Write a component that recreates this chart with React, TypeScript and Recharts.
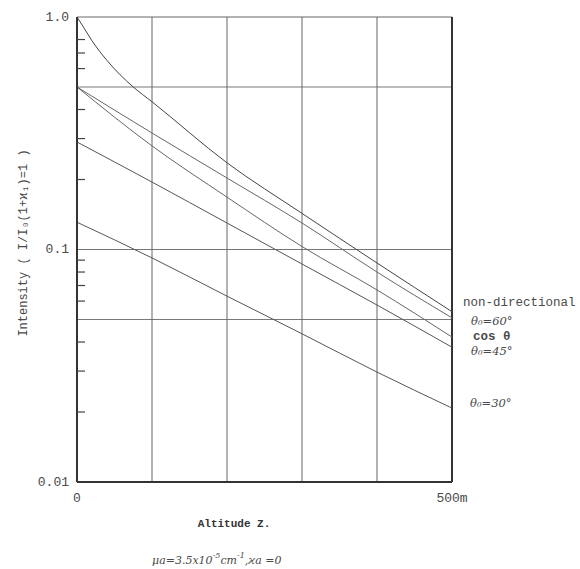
import { LineChart, Line, XAxis, YAxis, ReferenceLine } from 'recharts';

// altitude (m) at which each curve was read
const ALT = [0, 100, 200, 300, 400, 500];
const ALT_FINE = [0, 10, 20, 40, 75, 100, 200, 300, 400, 500];

// intensities
const NON_DIRECTIONAL = [1.0, 0.89, 0.79, 0.65, 0.5, 0.432, 0.236, 0.143, 0.0875, 0.054];
const THETA_60 = [0.5, 0.317, 0.203, 0.13, 0.08, 0.0508];
const COS_THETA = [0.5, 0.279, 0.168, 0.103, 0.067, 0.042];
const THETA_45 = [0.29, 0.195, 0.13, 0.0866, 0.0577, 0.038];
const THETA_30 = [0.131, 0.092, 0.063, 0.0434, 0.0297, 0.0208];

const Y_TICKS = [0.01, 0.02, 0.03, 0.04, 0.06, 0.07, 0.08, 0.09, 0.1, 0.2, 0.3, 0.4, 0.6, 0.7, 0.8, 1];
const Y_LABELS: Record<string, string> = { '1': '1.0', '0.1': '0.1', '0.01': '0.01' };
const X_TICKS = [0, 500];
const GRID_X = [100, 200, 300, 400];
const GRID_Y = [0.5, 0.1, 0.05];

const MONO = '"Liberation Mono", "DejaVu Sans Mono", monospace';
const INK = '#4a4a4a';
const AXIS_W = 40;

const rows = (xs: number[], vs: number[]) => xs.map((alt, i) => ({ alt, v: vs[i] }));

const SERIES = [
  { name: 'non-directional', data: rows(ALT_FINE, NON_DIRECTIONAL), dx: 11, dy: -9, italic: false, bold: false, color: '#444' },
  { name: 'θ₀=60°', data: rows(ALT, THETA_60), dx: 19, dy: 3, italic: true, bold: false, color: '#666' },
  { name: 'cos θ', data: rows(ALT, COS_THETA), dx: 21, dy: 0, italic: false, bold: true, color: '#666' },
  { name: 'θ₀=45°', data: rows(ALT, THETA_45), dx: 19, dy: 4, italic: true, bold: false, color: '#555' },
  { name: 'θ₀=30°', data: rows(ALT, THETA_30), dx: 18, dy: -5, italic: true, bold: false, color: '#555' },
];

// x arrives as the axis line position because tickSize and tickMargin are 0
const renderYTick = (props: any) => {
  const { x, y, payload } = props;
  const label = Y_LABELS[String(payload.value)];
  if (label) {
    return (
      <text x={x - 8} y={y} textAnchor="end" dominantBaseline="central" fontFamily={MONO} fontSize={13} fill={INK}>
        {label}
      </text>
    );
  }
  return <line x1={x} x2={x + 8} y1={y} y2={y} stroke="#444" strokeWidth={1.2} />;
};

function endLabel(s: (typeof SERIES)[number]) {
  const last = s.data.length - 1;
  return (props: any) => {
    if (props.index !== last) return null;
    return (
      <text
        x={props.x + s.dx}
        y={props.y + s.dy}
        dominantBaseline="central"
        fontFamily={s.italic ? '"DejaVu Serif", serif' : MONO}
        fontStyle={s.italic ? 'italic' : 'normal'}
        fontWeight={s.bold ? 'bold' : 'normal'}
        fontSize={s.italic ? 11.5 : 12.5}
        fill={INK}
      >
        {s.name}
      </text>
    );
  };
}

export default function App() {
  return (
    <div style={{ position: 'absolute', left: 0, top: 0, width: 580, height: 569, background: '#fff' }}>
      <LineChart width={580} height={569} margin={{ top: 17, right: 128, bottom: 57, left: 77 - AXIS_W }}>
        <XAxis
          dataKey="alt"
          type="number"
          domain={[0, 500]}
          ticks={X_TICKS}
          interval={0}
          height={30}
          tickLine={false}
          tickSize={0}
          tickMargin={11}
          tickFormatter={(v: number) => (v === 500 ? '500m' : String(v))}
          tick={{ fontFamily: MONO, fontSize: 13, fill: INK }}
          axisLine={{ stroke: '#333', strokeWidth: 2 }}
        />
        <YAxis
          type="number"
          scale="log"
          domain={[0.01, 1]}
          allowDataOverflow
          ticks={Y_TICKS}
          interval={0}
          width={AXIS_W}
          tickLine={false}
          tickSize={0}
          tickMargin={0}
          tick={renderYTick}
          axisLine={{ stroke: '#333', strokeWidth: 2 }}
        />
        <ReferenceLine y={1} stroke="#666" strokeWidth={1} />
        {GRID_Y.map((v) => (
          <ReferenceLine key={`gy-${v}`} y={v} stroke="#777" strokeWidth={1} />
        ))}
        {GRID_X.map((v) => (
          <ReferenceLine key={`gx-${v}`} x={v} stroke="#666" strokeWidth={1} />
        ))}
        <ReferenceLine x={500} stroke="#333" strokeWidth={2} />
        {SERIES.map((s) => (
          <Line
            key={s.name}
            data={s.data}
            dataKey="v"
            type="monotone"
            stroke={s.color}
            strokeWidth={1}
            dot={false}
            isAnimationActive={false}
            label={endLabel(s)}
          />
        ))}
      </LineChart>
      <svg width={580} height={569} style={{ position: 'absolute', left: 0, top: 0, pointerEvents: 'none' }}>
        <text
          transform="translate(24 243) rotate(-90)"
          textAnchor="middle"
          dominantBaseline="central"
          fontFamily={MONO}
          fontSize={12}
          fill={INK}
        >
          Intensity ( I/I₀(1+ϰ₁)=1 )
        </text>
        <text x={234} y={524} textAnchor="middle" dominantBaseline="central" fontFamily={MONO} fontWeight="bold" fontSize={11} fill="#333">
          Altitude Z.
        </text>
        <text x={152} y={560} dominantBaseline="central" fontFamily='"DejaVu Serif", serif' fontStyle="italic" fontSize={11} fill={INK}>
          μa=3.5x10<tspan dy={-5} fontSize={8}>-5</tspan>
          <tspan dy={5}>cm</tspan>
          <tspan dy={-5} fontSize={8}>-1</tspan>
          <tspan dy={5}>,ϰa =0</tspan>
        </text>
      </svg>
    </div>
  );
}
